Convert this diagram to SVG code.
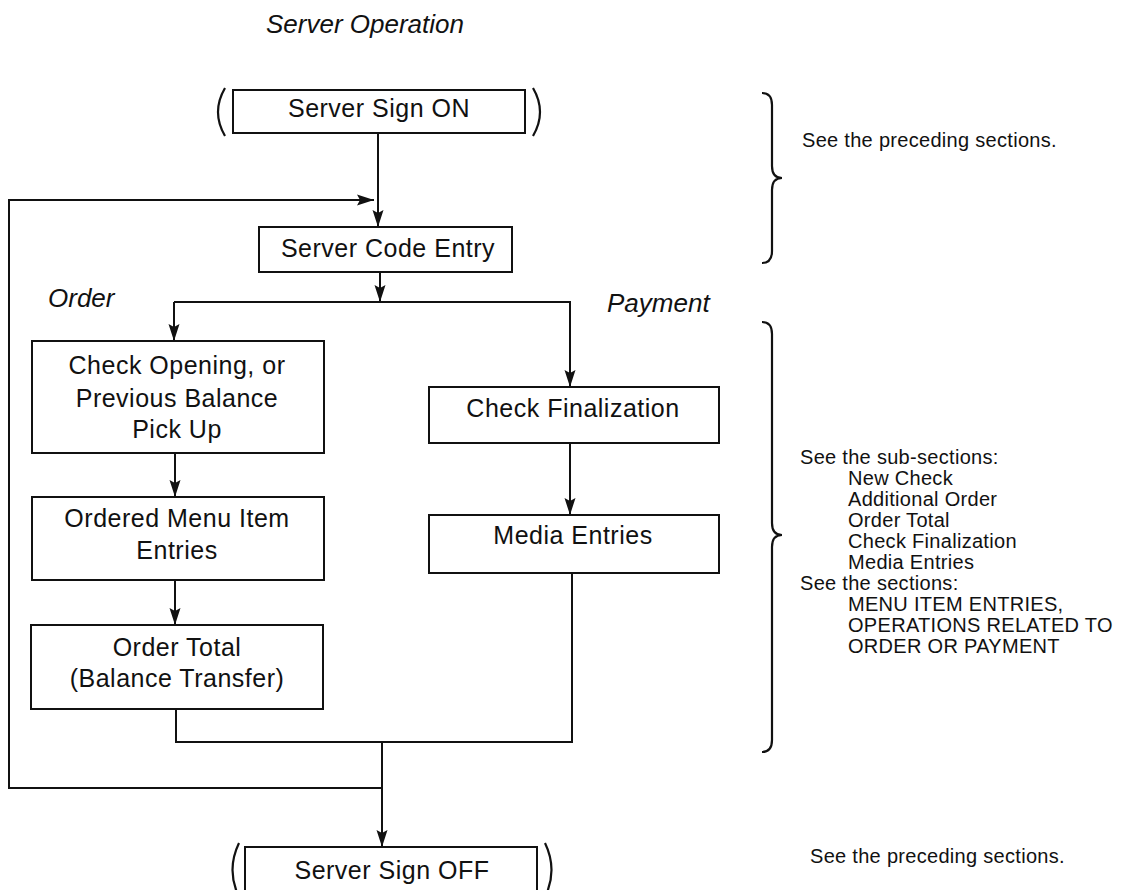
<svg xmlns="http://www.w3.org/2000/svg" width="1134" height="890" viewBox="0 0 1134 890">
<defs>
<marker id="ah" markerUnits="userSpaceOnUse" markerWidth="18" markerHeight="12" refX="17" refY="6" orient="auto">
<path d="M0,0.5 L17,6 L0,11.5 L3,6 z" fill="#111"/>
</marker>
<style>
.box{fill:#fff;stroke:#111;stroke-width:2}
.t{font-family:"Liberation Sans",Arial,sans-serif;font-size:25px;fill:#111;text-anchor:middle;letter-spacing:0.5px}
.it{font-family:"Liberation Sans",Arial,sans-serif;font-size:26px;font-style:italic;fill:#111}
.n{font-family:"Liberation Sans",Arial,sans-serif;font-size:20px;fill:#111;letter-spacing:0.3px}
.ln{fill:none;stroke:#111;stroke-width:2}
.ar{fill:none;stroke:#111;stroke-width:2;marker-end:url(#ah)}
.par{fill:none;stroke:#111;stroke-width:2.2}
</style>
</defs>
<rect width="1134" height="890" fill="#fff"/>
<text class="it" x="266" y="33">Server Operation</text>
<text class="it" x="48" y="307">Order</text>
<text class="it" x="607" y="312">Payment</text>

<g id="connectors">
<line class="ar" x1="378" y1="133" x2="378" y2="227"/>
<path class="ar" d="M382,788 L9,788 L9,200 L374,200"/>
<line class="ar" x1="380" y1="272" x2="380" y2="302"/>
<line class="ln" x1="174" y1="302" x2="571" y2="302"/>
<line class="ar" x1="174" y1="302" x2="174" y2="341"/>
<line class="ar" x1="570" y1="302" x2="570" y2="387"/>
<line class="ar" x1="175" y1="453" x2="175" y2="497"/>
<line class="ar" x1="175" y1="580" x2="175" y2="625"/>
<line class="ar" x1="570" y1="443" x2="570" y2="515"/>
<path class="ln" d="M176,709 L176,742 L572,742 L572,573"/>
<line class="ar" x1="382" y1="742" x2="382" y2="847"/>
</g>

<g id="sign-on">
<rect class="box" x="233" y="90" width="292" height="43"/>
<path class="par" d="M225,88 Q211,112 225,136"/>
<path class="par" d="M533,88 Q547,112 533,136"/>
<text class="t" x="379" y="117">Server Sign ON</text>
</g>
<g id="code-entry">
<rect class="box" x="259" y="227" width="253" height="45"/>
<text class="t" x="388" y="257">Server Code Entry</text>
</g>
<g id="check-opening">
<rect class="box" x="32" y="341" width="292" height="112"/>
<text class="t" x="177" y="374">Check Opening, or</text>
<text class="t" x="177" y="407">Previous Balance</text>
<text class="t" x="177" y="438">Pick Up</text>
</g>
<g id="menu-item">
<rect class="box" x="32" y="497" width="292" height="83"/>
<text class="t" x="177" y="527">Ordered Menu Item</text>
<text class="t" x="177" y="559">Entries</text>
</g>
<g id="order-total">
<rect class="box" x="31" y="625" width="292" height="84"/>
<text class="t" x="177" y="656">Order Total</text>
<text class="t" x="177" y="687">(Balance Transfer)</text>
</g>
<g id="check-final">
<rect class="box" x="429" y="387" width="290" height="56"/>
<text class="t" x="573" y="417">Check Finalization</text>
</g>
<g id="media">
<rect class="box" x="429" y="515" width="290" height="58"/>
<text class="t" x="573" y="544">Media Entries</text>
</g>
<g id="sign-off">
<rect class="box" x="245" y="847" width="292" height="60"/>
<path class="par" d="M239,843 Q226,870 239,897"/>
<path class="par" d="M545,843 Q558,870 545,897"/>
<text class="t" x="392" y="879">Server Sign OFF</text>
</g>

<g id="note-top">
<path class="par" d="M762,93 Q772,93 772,105 L772,166 Q772,178 782,178 Q772,178 772,190 L772,251 Q772,263 762,263"/>
<text class="n" x="802" y="147">See the preceding sections.</text>
</g>
<g id="note-mid">
<path class="par" d="M762,322 Q772,322 772,334 L772,523 Q772,535 782,535 Q772,535 772,547 L772,740 Q772,752 762,752"/>
<text class="n" x="800" y="464">See the sub-sections:</text>
<text class="n" x="848" y="485">New Check</text>
<text class="n" x="848" y="506">Additional Order</text>
<text class="n" x="848" y="527">Order Total</text>
<text class="n" x="848" y="548">Check Finalization</text>
<text class="n" x="848" y="569">Media Entries</text>
<text class="n" x="800" y="590">See the sections:</text>
<text class="n" x="848" y="611">MENU ITEM ENTRIES,</text>
<text class="n" x="848" y="632">OPERATIONS RELATED TO</text>
<text class="n" x="848" y="653">ORDER OR PAYMENT</text>
</g>
<g id="note-bottom">
<text class="n" x="810" y="863">See the preceding sections.</text>
</g>
</svg>
